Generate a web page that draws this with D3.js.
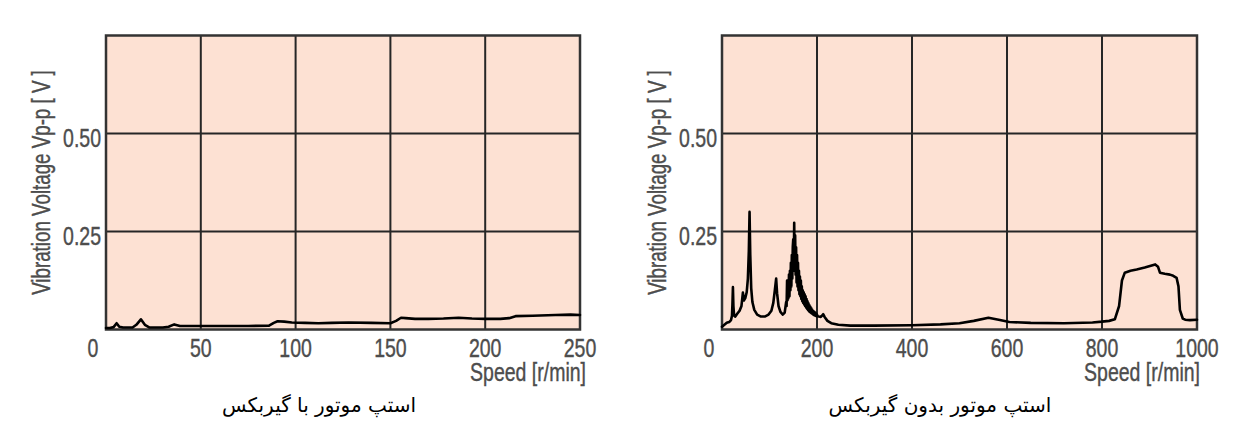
<!DOCTYPE html>
<html>
<head>
<meta charset="utf-8">
<script src="https://cdn.jsdelivr.net/npm/d3@7/dist/d3.min.js"></script>
<style>
  html, body { margin: 0; padding: 0; background: #ffffff; }
  svg { display: block; }
</style>
</head>
<body>
<svg id="chart" width="1259" height="445"></svg>
<script>
// ---------- DATA ----------
// Left chart: stepper motor with gearbox (speed 0..250 r/min)
const leftSpeed   = [0, 2, 4, 5.6, 7, 9, 14, 16, 18.4, 20.5, 23, 30, 33, 36, 39, 45, 60, 75, 86, 88.5, 90.5, 94, 98, 105, 112, 119, 128, 140, 150, 153, 155.6, 158, 163, 170, 178, 186, 193, 200, 208, 212.6, 216, 225, 237, 245, 250];
const leftVoltage = [0.004, 0.004, 0.006, 0.016, 0.007, 0.005, 0.005, 0.012, 0.026, 0.012, 0.005, 0.005, 0.007, 0.013, 0.009, 0.009, 0.009, 0.009, 0.010, 0.017, 0.021, 0.020, 0.018, 0.017, 0.016, 0.017, 0.018, 0.017, 0.016, 0.022, 0.030, 0.029, 0.027, 0.027, 0.028, 0.030, 0.028, 0.027, 0.027, 0.029, 0.034, 0.035, 0.037, 0.038, 0.037];

// Right chart: stepper motor without gearbox (speed 0..1000 r/min)
const rightSpeed = [
  0, 5, 10, 15, 19, 21, 22, 23, 24, 25.5, 28, 32, 37, 41, 44, 46, 49, 52, 54.5, 56.5, 58, 59.5, 61.5, 64, 68, 74, 82, 90, 98, 104, 108, 111, 114, 116, 119, 123, 128, 132,
  135, 136, 137, 138, 139, 140, 141, 142, 143, 144, 145, 146, 147, 148, 149, 150, 151, 152, 153, 154, 155, 156, 157, 158, 159, 160,
  161, 162, 163, 164, 165, 166, 167, 168, 169, 170, 171, 172, 173, 174, 175, 176, 177, 178, 179, 180,
  181, 182, 183, 184, 185, 186, 187, 188, 189, 190, 191, 192, 193, 194, 195, 196, 197, 198, 199, 200, 201,
  204, 208, 211, 213, 216, 222, 230, 245, 270, 320, 400, 460, 500, 530, 561, 585, 605, 650, 720, 780, 800, 815, 827, 836, 842, 848, 860, 873, 890, 912, 918, 922, 932, 943, 950, 957, 961, 964, 970, 975, 985, 1000];
const rightVoltage = [
  0.007, 0.012, 0.017, 0.019, 0.024, 0.035, 0.065, 0.108, 0.060, 0.035, 0.033, 0.040, 0.048, 0.060, 0.094, 0.074, 0.080, 0.095, 0.130, 0.200, 0.300, 0.190, 0.105, 0.070, 0.050, 0.038, 0.033, 0.033, 0.038, 0.048, 0.068, 0.098, 0.130, 0.092, 0.060, 0.045, 0.038, 0.043,
  0.070, 0.060, 0.125, 0.075, 0.100, 0.080, 0.140, 0.085, 0.150, 0.100, 0.170, 0.110, 0.190, 0.130, 0.210, 0.230, 0.150, 0.272, 0.160, 0.240, 0.140, 0.210, 0.120, 0.190, 0.110, 0.170,
  0.100, 0.150, 0.090, 0.135, 0.085, 0.125, 0.078, 0.110, 0.072, 0.100, 0.068, 0.095, 0.064, 0.090, 0.060, 0.085, 0.056, 0.078, 0.053, 0.072,
  0.050, 0.067, 0.047, 0.062, 0.045, 0.058, 0.043, 0.054, 0.041, 0.050, 0.039, 0.047, 0.037, 0.045, 0.036, 0.043, 0.035, 0.041, 0.034, 0.038, 0.034,
  0.033, 0.032, 0.036, 0.039, 0.032, 0.022, 0.016, 0.012, 0.010, 0.010, 0.011, 0.013, 0.016, 0.022, 0.030, 0.024, 0.019, 0.017, 0.016, 0.018, 0.020, 0.022, 0.026, 0.060, 0.125, 0.145, 0.150, 0.153, 0.158, 0.166, 0.160, 0.145, 0.142, 0.140, 0.137, 0.132, 0.110, 0.050, 0.028, 0.025, 0.024, 0.025];

const leftXTicks  = [50, 100, 150, 200, 250];
const rightXTicks = [200, 400, 600, 800, 1000];
const yTicks      = [0.25, 0.50];
const yTickLabels = ["0.25", "0.50"];
const yGrid       = [0.25, 0.50];
const leftXGrid   = [50, 100, 150, 200];
const rightXGrid  = [200, 400, 600, 800];

const yTitle   = "Vibration Voltage Vp-p [ V ]";
const xTitle   = "Speed [r/min]";
const originLabel = "0";
const leftCaption  = "استپ موتور با گیربکس";
const rightCaption = "استپ موتور بدون گیربکس";

// ---------- DRAW ----------
const svg = d3.select("#chart");
const latin = "'Liberation Sans', Arial, sans-serif";
const textGray = "#4d4d4d";
const SX = 0.75; // horizontal condensing to mimic a condensed face

function condensedText(g, x, y, str, size, anchor, rot) {
  return g.append("text")
    .attr("transform", `translate(${x},${y}) rotate(${rot || 0}) scale(${SX},1)`)
    .attr("text-anchor", anchor)
    .attr("font-family", latin).attr("font-size", size).attr("fill", textGray)
    .attr("stroke", textGray).attr("stroke-width", 0.4)
    .text(str);
}

function drawPanel(cfg) {
  const g = svg.append("g");
  const x = d3.scaleLinear().domain(cfg.xDomain).range([cfg.left, cfg.right]);
  const y = d3.scaleLinear().domain([0, 0.75]).range([cfg.bottom, cfg.top]);

  g.append("rect")
    .attr("x", cfg.left).attr("y", cfg.top)
    .attr("width", cfg.right - cfg.left).attr("height", cfg.bottom - cfg.top)
    .attr("fill", "#fde1d3");

  g.selectAll(".vg").data(cfg.xGrid).enter().append("line")
    .attr("x1", d => x(d)).attr("x2", d => x(d))
    .attr("y1", cfg.top).attr("y2", cfg.bottom)
    .attr("stroke", "#262626").attr("stroke-width", 2);
  g.selectAll(".hg").data(yGrid).enter().append("line")
    .attr("x1", cfg.left).attr("x2", cfg.right)
    .attr("y1", d => y(d)).attr("y2", d => y(d))
    .attr("stroke", "#262626").attr("stroke-width", 2);

  g.append("rect")
    .attr("x", cfg.left).attr("y", cfg.top)
    .attr("width", cfg.right - cfg.left).attr("height", cfg.bottom - cfg.top)
    .attr("fill", "none").attr("stroke", "#333").attr("stroke-width", 2.5);

  const pts = cfg.xs.map((s, i) => [s, cfg.ys[i]]);
  g.append("path")
    .datum(pts)
    .attr("d", d3.line().x(d => x(d[0])).y(d => y(d[1])))
    .attr("fill", "none").attr("stroke", "#000")
    .attr("stroke-width", 2.6).attr("stroke-linejoin", "round").attr("stroke-linecap", "round");

  cfg.xTicks.forEach(t => condensedText(g, x(t), cfg.bottom + 27, String(t), 26, "middle"));
  condensedText(g, cfg.left - 13, cfg.bottom + 27, originLabel, 26, "middle");

  yTicks.forEach((t, i) => condensedText(g, cfg.left - 5, y(t) + 13, yTickLabels[i], 26, "end"));

  condensedText(g, cfg.left - 56, (cfg.top + cfg.bottom) / 2, yTitle, 25, "middle", -90);

  condensedText(g, cfg.right + cfg.xTitleDx, cfg.bottom + 51, xTitle, 26, "end");

  g.append("text")
    .attr("x", cfg.captionX).attr("y", 412)
    .attr("text-anchor", "middle")
    .attr("direction", "rtl")
    .attr("font-family", "'DejaVu Sans', 'Noto Sans', sans-serif")
    .attr("font-size", 20).attr("fill", "#000")
    .text(cfg.caption);
}

drawPanel({
  left: 106, right: 580, top: 35.5, bottom: 329.5,
  xDomain: [0, 250], xs: leftSpeed, ys: leftVoltage,
  xTicks: leftXTicks, xGrid: leftXGrid, xTitleDx: 6,
  caption: leftCaption, captionX: 319
});
drawPanel({
  left: 722, right: 1197, top: 35.5, bottom: 329.5,
  xDomain: [0, 1000], xs: rightSpeed, ys: rightVoltage,
  xTicks: rightXTicks, xGrid: rightXGrid, xTitleDx: 3,
  caption: rightCaption, captionX: 940
});
</script>
</body>
</html>
